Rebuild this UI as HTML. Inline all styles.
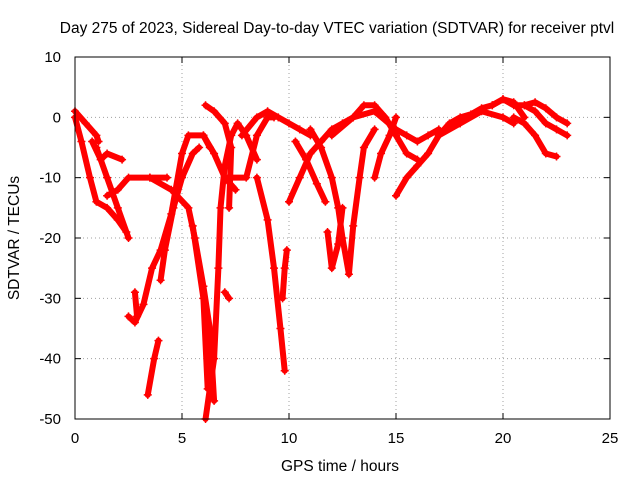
<!DOCTYPE html>
<html><head><meta charset="utf-8"><style>
body{margin:0;background:#fff;}
svg{display:block;font-family:"Liberation Sans",sans-serif;}
</style></head><body>
<svg id="chart" width="640" height="480">
<text x="337" y="33" font-size="15.5" text-anchor="middle">Day 275 of 2023, Sidereal Day-to-day VTEC variation (SDTVAR) for receiver ptvl</text>
<text x="340" y="471" font-size="15.5" text-anchor="middle">GPS time / hours</text>
<text x="19" y="238" font-size="15.5" text-anchor="middle" transform="rotate(-90 19 238)">SDTVAR / TECUs</text>
<g id="grid"></g><g id="ticks"></g><g id="marks"></g>
<rect x="75" y="57" width="535" height="362" fill="none" stroke="#000" stroke-width="1"/>
</svg>
<script>
const xTicks=[0,5,10,15,20,25];
const yTicks=[10,0,-10,-20,-30,-40,-50];
const tracks=[
[[0,1],[0.5,-1],[1,-3],[1.1,-4]],
[[0,0],[0.3,-4],[0.7,-10],[1,-14],[1.5,-15],[2,-17],[2.4,-19]],
[[0.8,-4],[1.2,-7],[1.5,-6],[2.2,-7]],
[[1,-5],[1.5,-10],[2,-15],[2.5,-20]],
[[1.5,-13],[2,-12],[2.5,-10],[3.5,-10],[4.3,-10]],
[[2.5,-33],[2.8,-34],[3.2,-31],[3.6,-25],[4,-22],[4.5,-16],[5,-6],[5.3,-3],[6,-3],[6.3,-5]],
[[2.8,-29],[2.9,-33]],
[[3.4,-46],[3.7,-40],[3.9,-37]],
[[4,-27],[4.2,-22],[4.6,-15],[5,-10],[5.5,-6],[5.8,-5]],
[[3.5,-10],[4.5,-12],[5.3,-15],[5.6,-20],[6,-28],[6.3,-35],[6.5,-47]],
[[6.1,2],[6.5,1],[7,-1],[7.3,-5],[7.2,-15]],
[[6.1,-50],[6.3,-45],[6.5,-40],[6.7,-25],[6.8,-15],[7,-8],[7.3,-3],[7.6,-1],[8,-3],[8.5,-7]],
[[5.5,-18],[6,-30],[6.2,-45]],
[[6,-3],[6.5,-6],[7,-10],[7.5,-12]],
[[7,-29],[7.2,-30]],
[[8.5,-10],[9,-17],[9.3,-25],[9.6,-35],[9.8,-42]],
[[9.7,-30],[9.8,-25],[9.9,-22]],
[[7.8,-3],[8.5,0],[9,1],[9.5,0],[10,-1],[10.5,-2],[11,-3]],
[[7,-10],[8,-10],[8.5,-3],[9,0],[9.3,0]],
[[10,-14],[10.5,-10],[11,-6],[11.5,-4],[12,-2],[12.5,-1],[13,0],[13.5,2],[14,2],[14.5,0],[15,-3],[15.5,-6],[16,-7]],
[[10.3,-4],[10.8,-7],[11.3,-11],[11.7,-14]],
[[11.8,-19],[12,-25],[12.3,-21],[12.5,-15]],
[[11,-2],[11.5,-5],[12,-10],[12.3,-15],[12.5,-20],[12.8,-26],[13,-18],[13.3,-10],[13.5,-5],[14,-2]],
[[12,-3],[13,0],[14,1],[15,-2],[15.5,-3],[16,-4],[16.5,-3],[17,-2]],
[[14,-10],[14.3,-6],[14.7,-3],[15,0]],
[[15,-13],[15.5,-10],[16,-8],[16.5,-6],[17,-3],[17.5,-1],[18,0],[18.5,0.5],[19,1.5],[19.5,2],[20,3],[20.5,2.5],[21,0]],
[[17,-3],[18,-1],[19,1],[20,0],[20.5,-1]],
[[19.5,2],[20,3],[20.5,2],[21,2],[21.5,1],[22,-1],[22.5,-2],[23,-3]],
[[20.5,0],[21,-1],[21.5,-3],[22,-6],[22.5,-6.5]],
[[21,2],[21.5,2.5],[22,1.5],[22.5,0],[23,-1]]
];
const NS="http://www.w3.org/2000/svg";
const X0=75,X1=610,Y0=419,Y1=57;
function sx(t){return X0+(t-0)/(25-0)*(X1-X0);}
function sy(v){return Y0-(v+50)/60*(Y0-Y1);}
const grid=document.getElementById('grid'),ticks=document.getElementById('ticks'),marks=document.getElementById('marks');
function mk(tag,attrs,parent){const e=document.createElementNS(NS,tag);for(const k in attrs)e.setAttribute(k,attrs[k]);parent.appendChild(e);return e;}
xTicks.forEach(t=>{
 const x=sx(t);
 if(t>0&&t<25){const g=mk('line',{x1:x,x2:x,y1:Y1,y2:Y0,stroke:'#a0a0a0','stroke-dasharray':'1,3'},grid);
 
 }
 mk('line',{x1:x,x2:x,y1:Y0,y2:Y0-6,stroke:'#000'},ticks);
 mk('line',{x1:x,x2:x,y1:Y1,y2:Y1+6,stroke:'#000'},ticks);
 const l=mk('text',{x:x,y:443,'font-size':15,'text-anchor':'middle'},ticks);l.textContent=t;
 
 
});
yTicks.forEach(v=>{
 const y=sy(v);
 if(v>-50&&v<10){const g=mk('line',{x1:X0,x2:X1,y1:y,y2:y,stroke:'#a0a0a0','stroke-dasharray':'1,3'},grid);
 
 }
 mk('line',{x1:X0,x2:X0+6,y1:y,y2:y,stroke:'#000'},ticks);
 mk('line',{x1:X1,x2:X1-6,y1:y,y2:y,stroke:'#000'},ticks);
 const l=mk('text',{x:61,y:y+5,'font-size':15,'text-anchor':'end'},ticks);l.textContent=v;
 
 
});
tracks.forEach((tr,i)=>{
 const p=mk('polyline',{points:tr.map(d=>sx(d[0])+','+sy(d[1])).join(' '),fill:'none',stroke:'#f00','stroke-width':6,'stroke-linejoin':'round','stroke-linecap':'round'},marks);
 
 
 tr.forEach(d=>{
  const x=sx(d[0]),y=sy(d[1]);
  const m=mk('path',{d:`M${x-4},${y}h8M${x},${y-4}v8`,stroke:'#f00','stroke-width':1.5},marks);
  
  
 });
});
</script>
</body></html>
